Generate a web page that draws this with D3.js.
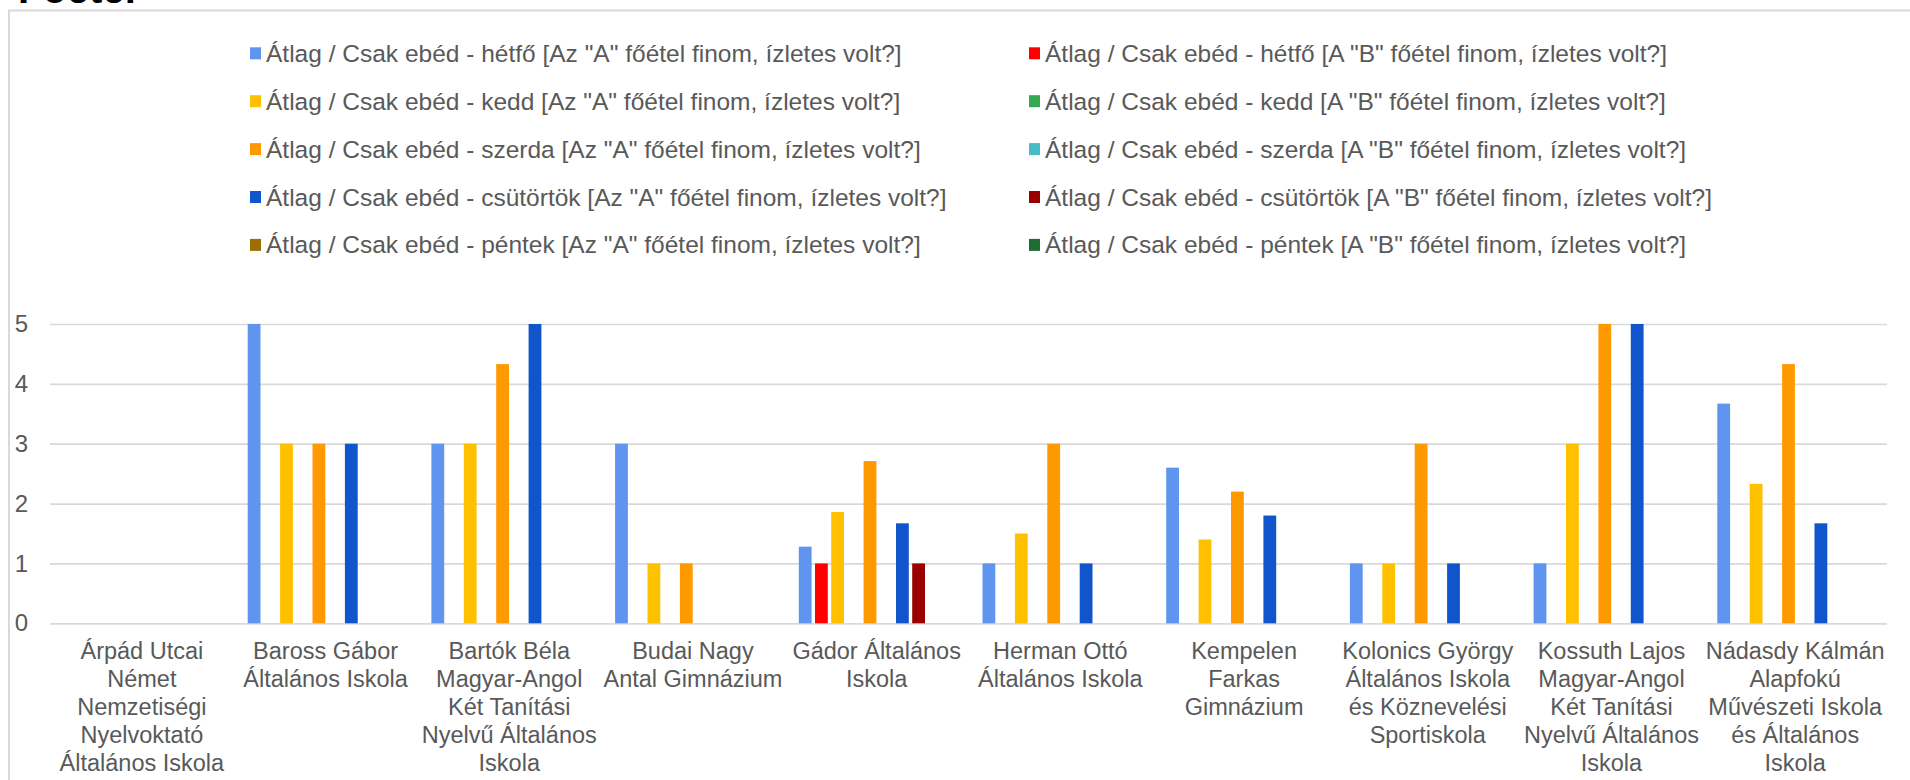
<!DOCTYPE html>
<html>
<head>
<meta charset="utf-8">
<script src="https://cdn.jsdelivr.net/npm/d3@7/dist/d3.min.js"></script>
<style>
  body { margin: 0; background: #fff; overflow: hidden; }
  text { font-family: "Liberation Sans", Arial, sans-serif; }
</style>
</head>
<body>
<div id="chart"></div>
<script>
// schools (line breaks as in the original chart)
var categories = [
  "Árpád Utcai\nNémet\nNemzetiségi\nNyelvoktató\nÁltalános Iskola",
  "Baross Gábor\nÁltalános Iskola",
  "Bartók Béla\nMagyar-Angol\nKét Tanítási\nNyelvű Általános\nIskola",
  "Budai Nagy\nAntal Gimnázium",
  "Gádor Általános\nIskola",
  "Herman Ottó\nÁltalános Iskola",
  "Kempelen\nFarkas\nGimnázium",
  "Kolonics György\nÁltalános Iskola\nés Köznevelési\nSportiskola",
  "Kossuth Lajos\nMagyar-Angol\nKét Tanítási\nNyelvű Általános\nIskola",
  "Nádasdy Kálmán\nAlapfokú\nMűvészeti Iskola\nés Általános\nIskola"
];

var seriesNames = [
  'Átlag / Csak ebéd - hétfő [Az "A" főétel finom, ízletes volt?]',
  'Átlag / Csak ebéd - hétfő [A "B" főétel finom, ízletes volt?]',
  'Átlag / Csak ebéd - kedd [Az "A" főétel finom, ízletes volt?]',
  'Átlag / Csak ebéd - kedd [A "B" főétel finom, ízletes volt?]',
  'Átlag / Csak ebéd - szerda [Az "A" főétel finom, ízletes volt?]',
  'Átlag / Csak ebéd - szerda [A "B" főétel finom, ízletes volt?]',
  'Átlag / Csak ebéd - csütörtök [Az "A" főétel finom, ízletes volt?]',
  'Átlag / Csak ebéd - csütörtök [A "B" főétel finom, ízletes volt?]',
  'Átlag / Csak ebéd - péntek [Az "A" főétel finom, ízletes volt?]',
  'Átlag / Csak ebéd - péntek [A "B" főétel finom, ízletes volt?]'
];

var colors = ["#5f95ef", "#ff0000", "#ffc000", "#34a853", "#ff9900",
              "#46bdc6", "#1155cc", "#990000", "#9c6f00", "#1e6b34"];

var hetfoA    = [null, 5, 3, 3, 1.28, 1, 2.6, 1, 1, 3.67];
var hetfoB    = [null, null, null, null, 1, null, null, null, null, null];
var keddA     = [null, 3, 3, 1, 1.86, 1.5, 1.4, 1, 3, 2.33];
var keddB     = [null, null, null, null, null, null, null, null, null, null];
var szerdaA   = [null, 3, 4.33, 1, 2.71, 3, 2.2, 3, 5, 4.33];
var szerdaB   = [null, null, null, null, null, null, null, null, null, null];
var csutortokA = [null, 3, 5, null, 1.67, 1, 1.8, 1, 5, 1.67];
var csutortokB = [null, null, null, null, 1, null, null, null, null, null];
var pentekA   = [null, null, null, null, null, null, null, null, null, null];
var pentekB   = [null, null, null, null, null, null, null, null, null, null];

var yTicks = [0, 1, 2, 3, 4, 5];

var series = [hetfoA, hetfoB, keddA, keddB, szerdaA, szerdaB,
              csutortokA, csutortokB, pentekA, pentekB];

var width = 1910, height = 780;
var svg = d3.select('#chart').append('svg')
  .attr('width', width)
  .attr('height', height);

// title, mostly cut off at the top
svg.append('text')
  .attr('x', 18).attr('y', 3)
  .attr('font-size', 40).attr('font-weight', 'bold')
  .attr('fill', '#000')
  .text('Főétel');

// chart frame
svg.append('rect')
  .attr('x', 9).attr('y', 10.5)
  .attr('width', 2000).attr('height', 1000)
  .attr('fill', 'none')
  .attr('stroke', '#d9d9d9')
  .attr('stroke-width', 2);

var plotLeft = 50, plotRight = 1887, plotTop = 324, plotBottom = 623.3;

var x0 = d3.scaleBand().domain(d3.range(categories.length)).range([plotLeft, plotRight]);
var x1 = d3.scaleBand().domain(d3.range(series.length)).range([14, 172.6]).paddingInner(0.21);
var y = d3.scaleLinear().domain([0, 5]).range([plotBottom, plotTop]);

// y axis + gridlines
var yAxis = svg.append('g')
  .attr('transform', 'translate(' + plotLeft + ',0)')
  .call(d3.axisLeft(y).tickValues(yTicks).tickFormat(d3.format('d'))
    .tickSize(-(plotRight - plotLeft)).tickPadding(22));
yAxis.select('.domain').remove();
yAxis.selectAll('.tick line').attr('stroke', '#d9d9d9').attr('stroke-width', 1.7);
yAxis.selectAll('.tick text')
  .attr('fill', '#595959')
  .attr('font-size', 24)
  .style('font-family', '"Liberation Sans", Arial, sans-serif');

// bars
var groups = svg.append('g').selectAll('g')
  .data(categories.map(function(c, i) { return i; }))
  .enter().append('g')
  .attr('transform', function(i) { return 'translate(' + x0(i) + ',0)'; });

groups.selectAll('rect')
  .data(function(i) {
    return series.map(function(s, k) { return {k: k, v: s[i]}; })
      .filter(function(d) { return d.v != null; });
  })
  .enter().append('rect')
  .attr('x', function(d) { return x1(d.k); })
  .attr('width', x1.bandwidth())
  .attr('y', function(d) { return y(d.v); })
  .attr('height', function(d) { return y(0) - y(d.v); })
  .attr('fill', function(d) { return colors[d.k]; });

// x axis labels
var xAxis = svg.append('g')
  .attr('transform', 'translate(0,' + plotBottom + ')')
  .call(d3.axisBottom(x0).tickSize(0).tickFormat(''));
xAxis.select('.domain').remove();
xAxis.selectAll('.tick').each(function(i) {
  var t = d3.select(this).append('text')
    .attr('fill', '#595959')
    .attr('font-size', 23.5)
    .attr('text-anchor', 'middle');
  categories[i].split('\n').forEach(function(line, j) {
    t.append('tspan').attr('x', 0).attr('y', 36 + j * 28).text(line);
  });
});

// legend, two columns
var legend = svg.append('g').selectAll('g')
  .data(seriesNames)
  .enter().append('g')
  .attr('transform', function(d, i) {
    var col = i % 2, row = Math.floor(i / 2);
    return 'translate(' + (col ? 1029 : 250) + ',' + (53.3 + row * 47.9) + ')';
  });
legend.append('rect')
  .attr('x', 0).attr('y', -6)
  .attr('width', 11).attr('height', 12)
  .attr('fill', function(d, i) { return colors[i]; });
legend.append('text')
  .attr('x', 16).attr('y', 8.5)
  .attr('font-size', 24.5)
  .attr('fill', '#595959')
  .text(function(d) { return d; });
</script>
</body>
</html>
